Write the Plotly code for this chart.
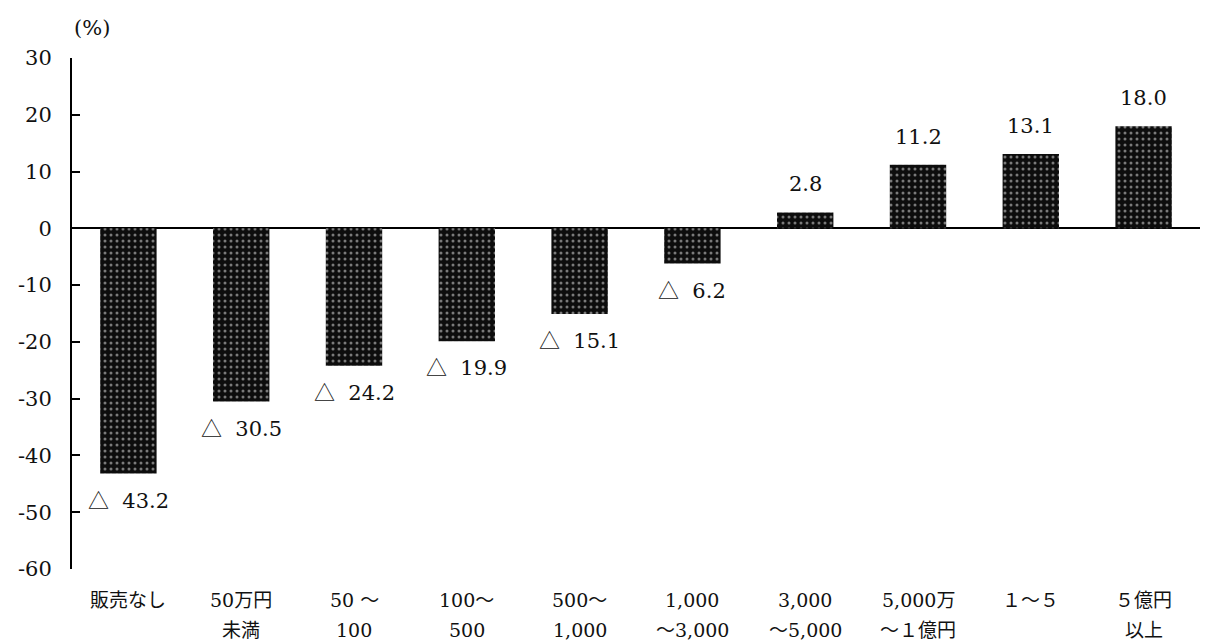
import plotly.graph_objects as go

# 販売金額規模別の増減率（%）
categories = ["販売なし", "50万円未満", "50～100", "100～500", "500～1,000",
              "1,000～3,000", "3,000～5,000", "5,000万～1億円", "1～5", "5億円以上"]
label_line1 = ["販売なし", "50万円", "50 ～", "100～", "500～",
               "1,000", "3,000", "5,000万", "１～５", "５億円"]
label_line2 = ["", "未満", "100", "500", "1,000",
               "～3,000", "～5,000", "～１億円", "", "以上"]
values = [-43.2, -30.5, -24.2, -19.9, -15.1, -6.2, 2.8, 11.2, 13.1, 18.0]
y_ticks = [30, 20, 10, 0, -10, -20, -30, -40, -50, -60]

FONT = "'DejaVu Serif', 'Noto Sans CJK JP', serif"
TRIANGLE = "<span style=\"font-family:'Noto Sans CJK JP'\">△</span>"


def value_label(v):
    return f"{TRIANGLE}  {abs(v):.1f}" if v < 0 else f"{v:.1f}"


fig = go.Figure()
fig.add_trace(go.Bar(
    x=categories,
    y=values,
    width=0.5,
    marker=dict(
        color="#0d0d0d",
        line=dict(width=0),
        pattern=dict(shape=".", bgcolor="#0d0d0d", fgcolor="#7a7a7a",
                     size=6, solidity=0.2, fillmode="replace"),
    ),
    hoverinfo="skip",
))

annotations = []
for cat, v in zip(categories, values):
    annotations.append(dict(
        x=cat, y=v, xref="x", yref="y", text=value_label(v), showarrow=False,
        yanchor="middle", yshift=-25 if v < 0 else 28,
        font=dict(family=FONT, size=21, color="#111"),
    ))
for cat, l1, l2 in zip(categories, label_line1, label_line2):
    annotations.append(dict(
        x=cat, y=0, xref="x", yref="paper", text=l1, showarrow=False,
        yanchor="middle", yshift=-31, font=dict(family=FONT, size=19, color="#111"),
    ))
    if l2:
        annotations.append(dict(
            x=cat, y=0, xref="x", yref="paper", text=l2, showarrow=False,
            yanchor="middle", yshift=-61, font=dict(family=FONT, size=19, color="#111"),
        ))
annotations.append(dict(
    x=0, y=1, xref="paper", yref="paper", text="(%)", showarrow=False,
    xanchor="center", yanchor="middle", xshift=20, yshift=30,
    font=dict(family=FONT, size=21, color="#111"),
))

fig.update_layout(
    width=1216, height=644,
    margin=dict(l=72, r=16, t=58, b=75),
    plot_bgcolor="white", paper_bgcolor="white",
    showlegend=False,
    annotations=annotations,
    font=dict(family=FONT, size=20, color="#111"),
    xaxis=dict(showticklabels=False, showline=False, showgrid=False,
               ticks="", zeroline=False),
    yaxis=dict(range=[-60, 30], tickvals=y_ticks, ticktext=[str(t) for t in y_ticks],
               showgrid=False, showline=True, linecolor="black", linewidth=2,
               ticks="inside", ticklen=8, tickwidth=2, tickcolor="black",
               zeroline=True, zerolinecolor="black", zerolinewidth=2,
               tickfont=dict(family=FONT, size=21, color="#111"), ticklabelstandoff=14),
)

fig.write_html("out.html")
